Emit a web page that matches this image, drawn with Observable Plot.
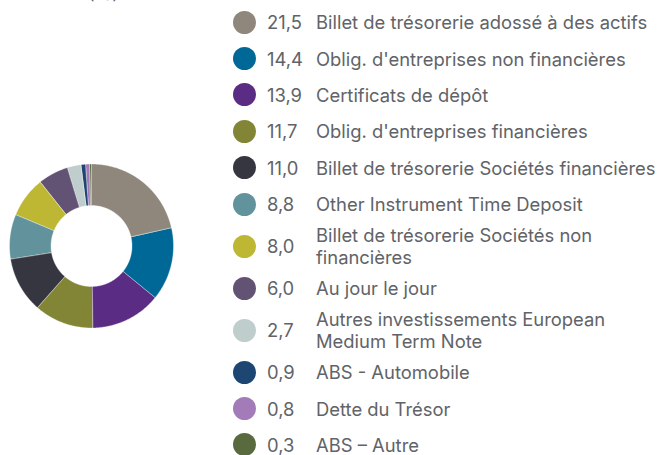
<!DOCTYPE html>
<html>
<head>
<meta charset="utf-8">
<script src="https://cdn.jsdelivr.net/npm/d3@7"></script>
<script src="https://cdn.jsdelivr.net/npm/@observablehq/plot@0.6"></script>
<style>
  html, body { margin: 0; padding: 0; background: #ffffff; }
  #wrap { position: relative; width: 663px; height: 455px; overflow: hidden; font-family: Inter, "Noto Sans", sans-serif; color: #616368; }
  #title { position: absolute; left: 88px; top: -15px; font-size: 18px; line-height: 17px; white-space: nowrap; color: #616368; }
  #legend { position: absolute; left: 233px; top: 4px; width: 430px; }
  .row { display: flex; align-items: center; min-height: 36.4px; box-sizing: border-box; padding: 1.5px 0; }
  .sw { width: 23px; height: 23px; border-radius: 50%; flex: none; }
  .val { width: 49px; margin-left: 11px; flex: none; font-size: 18.4px; line-height: 18px; }
  .lab { font-size: 18.4px; line-height: 18px; white-space: nowrap; }
  .lab.two { line-height: 22.3px; }
  svg { display: block; }
</style>
</head>
<body>
<div id="wrap">
  <div id="chart"></div>
  <div id="title">(%)</div>
  <div id="legend"></div>
</div>
<script>
const categories = [
  "Billet de trésorerie adossé à des actifs",
  "Oblig. d'entreprises non financières",
  "Certificats de dépôt",
  "Oblig. d'entreprises financières",
  "Billet de trésorerie Sociétés financières",
  "Other Instrument Time Deposit",
  "Billet de trésorerie Sociétés non financières",
  "Au jour le jour",
  "Autres investissements European Medium Term Note",
  "ABS - Automobile",
  "Dette du Trésor",
  "ABS – Autre"
];
const values = [21.5, 14.4, 13.9, 11.7, 11.0, 8.8, 8.0, 6.0, 2.7, 0.9, 0.8, 0.3];
const valueLabels = ["21,5", "14,4", "13,9", "11,7", "11,0", "8,8", "8,0", "6,0", "2,7", "0,9", "0,8", "0,3"];
const colors = ["#8f877b", "#006896", "#5b2c83", "#838536", "#363640", "#62929b",
                "#bdb733", "#625273", "#bfcdcc", "#1e4672", "#a27bb8", "#596b3e"];
// line breaks in legend labels as in the reference
const labelLines = {
  "Billet de trésorerie Sociétés non financières": ["Billet de trésorerie Sociétés non", "financières"],
  "Autres investissements European Medium Term Note": ["Autres investissements European", "Medium Term Note"]
};

const innerRatio = 0.494;
const pie = d3.pie().sort(null).value(d => d)(values);

// Build slice outlines (outer arc then inner arc back) in unit coordinates
const pts = [];
pie.forEach((s, i) => {
  const a0 = s.startAngle, a1 = s.endAngle;
  const n = Math.max(4, Math.ceil((a1 - a0) / 0.01));
  for (let k = 0; k <= n; k++) {
    const a = a0 + (a1 - a0) * k / n;
    pts.push({cat: categories[i], x: Math.sin(a), y: Math.cos(a)});
  }
  for (let k = n; k >= 0; k--) {
    const a = a0 + (a1 - a0) * k / n;
    pts.push({cat: categories[i], x: innerRatio * Math.sin(a), y: innerRatio * Math.cos(a)});
  }
});

const chart = Plot.plot({
  width: 663,
  height: 455,
  marginLeft: 9,
  marginRight: 490,
  marginTop: 163.5,
  marginBottom: 127.5,
  x: {domain: [-1, 1], axis: null},
  y: {domain: [-1, 1], axis: null},
  color: {domain: categories, range: colors},
  marks: [
    Plot.line(pts, {x: "x", y: "y", z: "cat", fill: "cat", stroke: "#ffffff", strokeWidth: 0.5, strokeOpacity: 0.7, curve: "linear-closed"})
  ]
});
document.getElementById("chart").appendChild(chart);

const legend = document.getElementById("legend");
categories.forEach((c, i) => {
  const row = document.createElement("div");
  row.className = "row";
  const sw = document.createElement("div");
  sw.className = "sw";
  sw.style.background = colors[i];
  const v = document.createElement("div");
  v.className = "val";
  v.textContent = valueLabels[i];
  const l = document.createElement("div");
  const lines = labelLines[c] || [c];
  l.className = lines.length > 1 ? "lab two" : "lab";
  lines.forEach((t, j) => {
    if (j) l.appendChild(document.createElement("br"));
    l.appendChild(document.createTextNode(t));
  });
  row.append(sw, v, l);
  legend.appendChild(row);
});
</script>
</body>
</html>
